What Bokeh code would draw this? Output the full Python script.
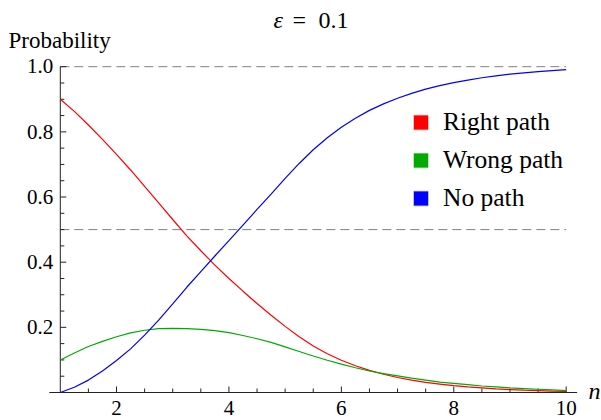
from math import pi, nan
from bokeh.plotting import figure
from bokeh.models import Legend, LegendItem, Range1d
from bokeh.core.properties import value
from bokeh.embed import file_html
from bokeh.resources import INLINE

# ---- data ----
n_vals = [1.0, 1.25, 1.5, 1.75, 2.0, 2.25, 2.5, 2.75, 3.0, 3.25, 3.5, 3.75, 4.0,
          4.25, 4.5, 4.75, 5.0, 5.25, 5.5, 5.75, 6.0, 6.25, 6.5, 6.75, 7.0, 7.25,
          7.5, 7.75, 8.0, 8.25, 8.5, 8.75, 9.0, 9.25, 9.5, 9.75, 10.0]
right_path = [0.900, 0.863, 0.821, 0.777, 0.731, 0.683, 0.633, 0.582, 0.531, 0.481,
              0.435, 0.391, 0.350, 0.311, 0.273, 0.237, 0.203, 0.171, 0.143, 0.119,
              0.099, 0.082, 0.068, 0.056, 0.046, 0.038, 0.031, 0.026, 0.021, 0.017,
              0.014, 0.011, 0.009, 0.007, 0.006, 0.004, 0.003]
wrong_path = [0.100, 0.121, 0.141, 0.157, 0.171, 0.183, 0.191, 0.196, 0.197, 0.196,
              0.194, 0.190, 0.184, 0.175, 0.165, 0.154, 0.140, 0.126, 0.112, 0.099,
              0.087, 0.076, 0.066, 0.058, 0.051, 0.044, 0.038, 0.032, 0.028, 0.024,
              0.020, 0.017, 0.014, 0.012, 0.010, 0.008, 0.006]
no_path = [0.000, 0.016, 0.038, 0.066, 0.098, 0.134, 0.176, 0.222, 0.272, 0.323,
           0.371, 0.419, 0.466, 0.514, 0.562, 0.609, 0.657, 0.703, 0.745, 0.782,
           0.814, 0.842, 0.866, 0.886, 0.903, 0.918, 0.931, 0.942, 0.951, 0.959,
           0.966, 0.972, 0.977, 0.981, 0.985, 0.988, 0.991]

series_names = ["Right path", "Wrong path", "No path"]
series_colors = ["#ff0000", "#00aa00", "#0000ff"]
ref_levels = [0.5, 1.0]

x_major = [2, 4, 6, 8, 10]
x_major_labels = ["2", "4", "6", "8", "10"]
x_minor = [1.5, 2.5, 3, 3.5, 4.5, 5, 5.5, 6.5, 7, 7.5, 8.5, 9, 9.5]
y_major = [0.2, 0.4, 0.6, 0.8, 1.0]
y_major_labels = ["0.2", "0.4", "0.6", "0.8", "1.0"]
y_minor = [0.05, 0.1, 0.15, 0.25, 0.3, 0.35, 0.45, 0.5, 0.55, 0.65, 0.7, 0.75,
           0.85, 0.9, 0.95]

title_symbol = "ε"
title_eq = "="
title_value = "0.1"
y_title = "Probability"
x_title = "n"

# ---- layout (pixels) ----
W, H = 601, 420
X0_PX, PX_PER_N = 59.8, 56.21      # pixel of n = 1, pixels per unit n
Y0_PX, PX_PER_P = 392.0, 325.8     # pixel of p = 0, pixels per unit p
X_AXIS_SPAN = (0.805, 10.195)

FONT = value("Liberation Serif")
AX = "#222222"

x_start = 1 - X0_PX / PX_PER_N
y_start = -(H - Y0_PX) / PX_PER_P
p = figure(width=W, height=H, output_backend="svg", toolbar_location=None,
           title=None,
           x_range=Range1d(x_start, x_start + W / PX_PER_N),
           y_range=Range1d(y_start, y_start + H / PX_PER_P),
           x_axis_location=None, y_axis_location=None,
           min_border_left=0, min_border_right=0, min_border_top=0,
           min_border_bottom=0)
p.outline_line_color = None
p.grid.visible = False
p.background_fill_color = "white"
p.border_fill_color = "white"


def px_x(px):
    return x_start + px / PX_PER_N


def px_y(py):
    return y_start + (H - py) / PX_PER_P


# reference dashed lines
p.segment(x0=[n_vals[0]] * len(ref_levels), x1=[n_vals[-1]] * len(ref_levels),
          y0=ref_levels, y1=ref_levels, line_color="#808080", line_width=1,
          line_dash="9 5")

# axes
p.segment(x0=[X_AXIS_SPAN[0]], x1=[X_AXIS_SPAN[1]], y0=[0], y1=[0],
          line_color=AX, line_width=1)
p.segment(x0=[n_vals[0]], x1=[n_vals[0]], y0=[0], y1=[y_major[-1]],
          line_color=AX, line_width=1)
p.ray(x=[n_vals[0]] * len(y_major), y=y_major, length=6, length_units="screen",
      angle=0, line_color=AX, line_width=1)
p.ray(x=[n_vals[0]] * len(y_minor), y=y_minor, length=4, length_units="screen",
      angle=0, line_color=AX, line_width=1)
p.ray(x=x_major, y=[0] * len(x_major), length=6, length_units="screen",
      angle=pi / 2, line_color=AX, line_width=1)
p.ray(x=x_minor, y=[0] * len(x_minor), length=4, length_units="screen",
      angle=pi / 2, line_color=AX, line_width=1)

# curves
for vals, col in zip([right_path, wrong_path, no_path], series_colors):
    p.line(n_vals, vals, line_color=col, line_width=1.2)

# legend with square swatches
items = []
for name, col in zip(series_names, series_colors):
    r = p.scatter(x=[nan], y=[nan], marker="square", fill_color=col,
                  line_color=col, line_alpha=0.35, line_width=1.5)
    items.append(LegendItem(label=name, renderers=[r]))
legend = Legend(items=items, location=(403, 203), glyph_width=35, glyph_height=38,
                label_standoff=5, spacing=0, padding=0, margin=0,
                border_line_color=None, background_fill_alpha=0,
                label_text_font="Liberation Serif", label_text_font_size="25.5px",
                label_text_color="black")
p.add_layout(legend)

# tick labels (text glyphs, vertically centred)
p.text(x=x_major, y=[0] * len(x_major), text=x_major_labels, y_offset=15.7,
       text_align="center", text_baseline="middle", text_font=FONT,
       text_font_size="21px", text_color="black")
p.text(x=[n_vals[0]] * len(y_major), y=y_major, text=y_major_labels,
       x_offset=-7, y_offset=-0.3, text_align="right", text_baseline="middle",
       text_font=FONT, text_font_size="21px", text_color="black")


def px_text(x_px, center_px, text, size, style="normal", align="left"):
    p.text(x=[px_x(x_px)], y=[px_y(center_px)], text=[text], text_font=FONT,
           text_font_style=style, text_font_size=size, text_align=align,
           text_baseline="middle", text_color="black")


px_text(273, 19.5, title_symbol, "24px", style="italic")
px_text(292, 19.5, title_eq, "24px")
px_text(318, 19.5, title_value, "24px")
px_text(8, 40.3, y_title, "23px")
px_text(588, 390.3, x_title, "24px", style="italic")

open("out.html", "w").write(file_html(p, INLINE))
